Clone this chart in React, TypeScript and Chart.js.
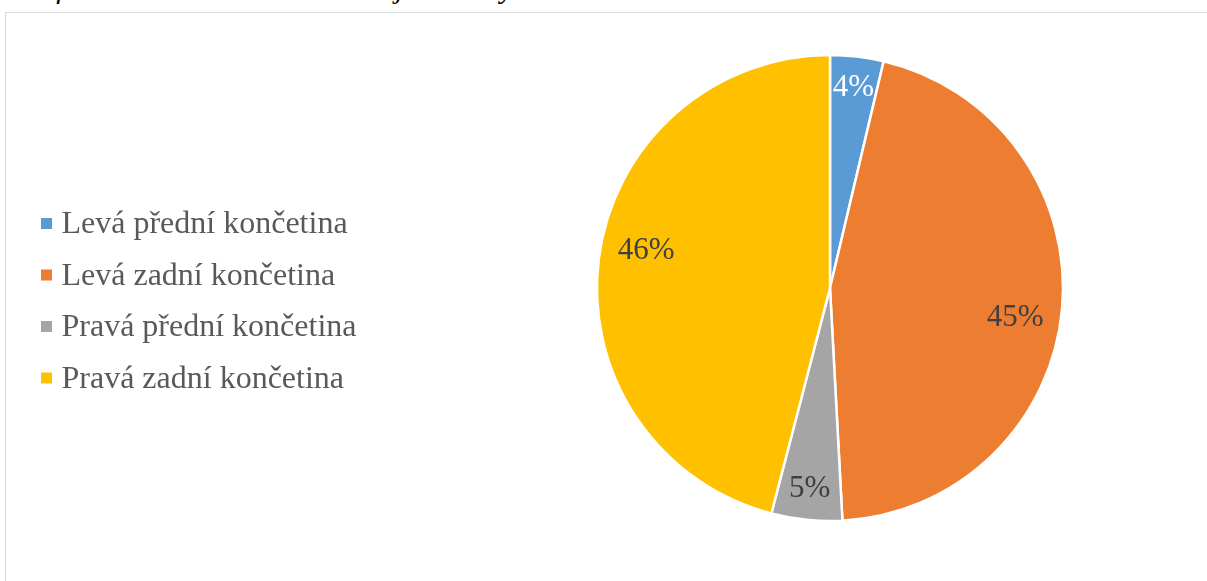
import React, { useEffect, useRef } from 'react';
import { Chart, registerables } from 'chart.js';

Chart.register(...registerables);

const categories = ['Levá přední končetina', 'Levá zadní končetina', 'Pravá přední končetina', 'Pravá zadní končetina'];
const values = [3.7, 45.45, 4.9, 45.95];
const sliceColors = ['#5B9BD5', '#ED7D31', '#A5A5A5', '#FFC000'];
const valueLabelColors = ['#FFFFFF', '#404040', '#404040', '#404040'];
const titleText = 'Graf 1: Lokalizace zlomenin na jednotlivých končetinách';

const FONT = '"Liberation Serif", "Times New Roman", serif';

const pieLabelsPlugin = {
  id: 'pieLabels',
  afterDatasetsDraw(chart: any) {
    const ctx = chart.ctx;
    const meta = chart.getDatasetMeta(0);
    const data = chart.data.datasets[0].data as number[];
    const total = data.reduce((a, b) => a + b, 0);
    ctx.save();
    ctx.font = `31px ${FONT}`;
    ctx.textAlign = 'center';
    ctx.textBaseline = 'middle';
    meta.data.forEach((arc: any, i: number) => {
      const p = arc.getProps(['x', 'y', 'startAngle', 'endAngle', 'outerRadius'], true);
      const frac = data[i] / total;
      const small = frac < 0.1;
      const mid = (p.startAngle + p.endAngle) / 2 + (small ? 0 : 0.07);
      const r = p.outerRadius * (small ? 0.865 : 0.805);
      const x = p.x + Math.cos(mid) * r;
      const y = p.y + Math.sin(mid) * r;
      ctx.fillStyle = valueLabelColors[i];
      ctx.fillText(`${Math.round(frac * 100)}%`, x, y);
    });
    ctx.restore();
  },
};

const legendPlugin = {
  id: 'sideLegend',
  afterDraw(chart: any) {
    const ctx = chart.ctx;
    const labels = chart.data.labels as string[];
    const colors = chart.data.datasets[0].backgroundColor as string[];
    ctx.save();
    ctx.font = `32px ${FONT}`;
    ctx.textAlign = 'left';
    ctx.textBaseline = 'alphabetic';
    labels.forEach((label, i) => {
      const cy = 223.5 + i * 51.5;
      ctx.fillStyle = colors[i];
      ctx.fillRect(41, cy - 5.5, 11, 11);
      ctx.fillStyle = '#595959';
      ctx.fillText(label, 61.5, cy + 9.5);
    });
    ctx.restore();
  },
};

export default function App() {
  const canvasRef = useRef<HTMLCanvasElement | null>(null);

  useEffect(() => {
    if (!canvasRef.current) return;
    const chart = new Chart(canvasRef.current, {
      type: 'pie',
      data: {
        labels: categories,
        datasets: [
          {
            data: values,
            backgroundColor: sliceColors,
            borderColor: '#FFFFFF',
            borderWidth: 2.5,
            radius: 233,
          } as any,
        ],
      },
      options: {
        responsive: false,
        animation: false,
        devicePixelRatio: 1,
        layout: { padding: { left: 590, right: 137, top: 50, bottom: 55 } },
        plugins: {
          legend: { display: false },
          tooltip: { enabled: false },
          title: { display: false },
        },
      },
      plugins: [pieLabelsPlugin, legendPlugin],
    });
    return () => chart.destroy();
  }, []);

  return (
    <div
      style={{
        position: 'absolute',
        left: 0,
        top: 0,
        width: 1207,
        height: 581,
        overflow: 'hidden',
        background: '#FFFFFF',
      }}
    >
      <div
        style={{
          position: 'absolute',
          left: 8,
          top: -27,
          fontFamily: FONT,
          fontStyle: 'italic',
          fontSize: 30,
          lineHeight: '30px',
          color: '#000000',
          whiteSpace: 'nowrap',
        }}
      >
        {titleText}
      </div>
      <div
        style={{
          position: 'absolute',
          left: 5,
          top: 12,
          width: 1300,
          height: 700,
          border: '1.5px solid #D9D9D9',
          boxSizing: 'border-box',
        }}
      />
      <canvas
        ref={canvasRef}
        width={1207}
        height={581}
        style={{ position: 'absolute', left: 0, top: 0, width: 1207, height: 581 }}
      />
    </div>
  );
}
